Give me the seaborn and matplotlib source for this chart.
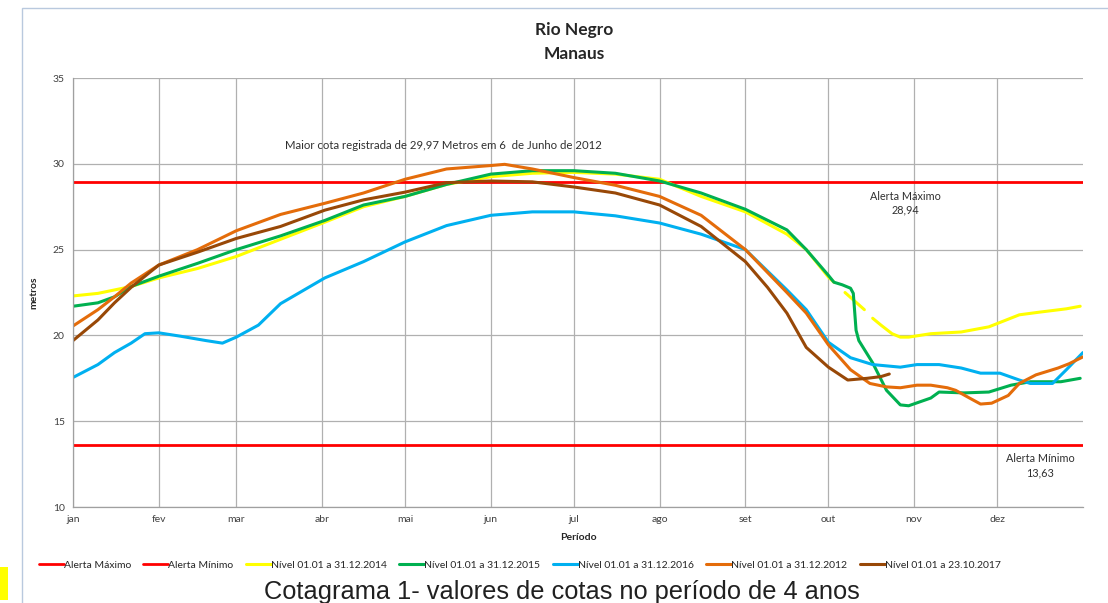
import numpy as np
import pandas as pd
import matplotlib
matplotlib.use('Agg')
import matplotlib.pyplot as plt
from matplotlib.patches import Rectangle
import seaborn as sns

sns.set_theme(style='whitegrid')
plt.rcParams['font.family'] = ['Lato', 'DejaVu Sans']

# day of year of each month start, and the month labels
month_days = [1, 32, 60, 91, 121, 152, 182, 213, 244, 274, 305, 335]
month_labels = ['jan', 'fev', 'mar', 'abr', 'mai', 'jun', 'jul', 'ago', 'set', 'out', 'nov', 'dez']

alerta_max = 28.94
alerta_min = 13.63

# values (day of year, metres)
days_2014 = [1, 10, 22, 32, 46, 60, 76, 92, 106, 121, 136, 152, 167, 182, 197, 213, 228, 244,
             259, 266, 274, 276, 278, 280, 287, 288, 290, 293, 297, 300, 303, 311, 322, 332,
             343, 350, 360, 365]
nivel_2014 = [22.3, 22.45, 22.85, 23.35, 23.9, 24.6, 25.6, 26.6, 27.5, 28.1, 28.8, 29.25, 29.45,
              29.5, 29.4, 29.1, 28.1, 27.2, 25.9, 25.0, 23.4, 23.1, np.nan, 22.5, 21.5, np.nan,
              21.0, 20.6, 20.1, 19.9, 19.9, 20.1, 20.2, 20.5, 21.2, 21.35, 21.55, 21.7]

days_2015 = [1, 10, 16, 22, 32, 46, 60, 76, 92, 106, 121, 136, 152, 167, 182, 197, 213, 228,
             244, 259, 266, 274, 276, 279, 282, 283, 284, 285, 290, 295, 300, 303, 311, 314,
             323, 332, 340, 347, 358, 365]
nivel_2015 = [21.7, 21.9, 22.25, 22.85, 23.45, 24.2, 25.0, 25.8, 26.7, 27.6, 28.1, 28.8, 29.4,
              29.6, 29.6, 29.45, 29.0, 28.3, 27.35, 26.15, 25.0, 23.5, 23.1, 22.95, 22.75, 22.45,
              20.3, 19.7, 18.4, 16.8, 15.95, 15.9, 16.35, 16.7, 16.65, 16.7, 17.1, 17.3, 17.3, 17.5]

days_2016 = [1, 10, 16, 22, 27, 32, 40, 49, 55, 60, 68, 76, 92, 106, 121, 136, 152, 167, 182,
             197, 213, 228, 244, 259, 266, 274, 282, 290, 300, 306, 314, 322, 329, 336, 343,
             347, 355, 360, 366]
nivel_2016 = [17.55, 18.3, 19.0, 19.55, 20.1, 20.15, 19.95, 19.7, 19.55, 19.9, 20.6, 21.85, 23.35,
              24.3, 25.45, 26.4, 27.0, 27.2, 27.2, 26.97, 26.55, 25.9, 25.0, 22.65, 21.5, 19.6,
              18.7, 18.3, 18.15, 18.3, 18.3, 18.1, 17.8, 17.8, 17.4, 17.2, 17.2, 18.0, 19.0]

days_2012 = [1, 10, 16, 22, 32, 46, 60, 76, 92, 106, 121, 136, 152, 157, 167, 182, 197, 213,
             228, 244, 259, 266, 274, 282, 289, 295, 300, 306, 311, 317, 320, 325, 329, 333,
             339, 343, 349, 357, 361, 366]
nivel_2012 = [20.55, 21.5, 22.25, 23.05, 24.1, 25.0, 26.1, 27.05, 27.7, 28.3, 29.1, 29.7, 29.9,
              29.97, 29.7, 29.2, 28.75, 28.1, 27.0, 25.0, 22.5, 21.3, 19.45, 18.0, 17.2, 17.0,
              16.95, 17.1, 17.1, 16.95, 16.8, 16.35, 16.0, 16.05, 16.5, 17.2, 17.7, 18.1, 18.35,
              18.75]

days_2017 = [1, 10, 16, 22, 32, 46, 60, 76, 92, 106, 121, 136, 152, 167, 182, 197, 213, 228,
             244, 252, 259, 266, 274, 281, 288, 293, 296]
nivel_2017 = [19.7, 20.9, 21.9, 22.8, 24.1, 24.85, 25.65, 26.35, 27.3, 27.9, 28.35, 28.9, 29.0,
              28.95, 28.65, 28.3, 27.6, 26.35, 24.3, 22.8, 21.3, 19.3, 18.15, 17.4, 17.5, 17.6,
              17.75]

series = [
    ('Nível 01.01 a 31.12.2014', days_2014, nivel_2014, '#ffff00'),
    ('Nível 01.01 a 31.12.2015', days_2015, nivel_2015, '#00b050'),
    ('Nível 01.01 a 31.12.2016', days_2016, nivel_2016, '#00b0f0'),
    ('Nível 01.01 a 31.12.2012', days_2012, nivel_2012, '#e46c0a'),
    ('Nível 01.01 a 23.10.2017', days_2017, nivel_2017, '#984807'),
]

fig = plt.figure(figsize=(11.08, 6.03), dpi=100)
ax = fig.add_axes([0.0659, 0.1592, 0.9115, 0.7114])

# outer frame and the little yellow mark at the left edge
fig.patches.append(Rectangle((22 / 1108, -0.05), 1.1, 1.05 - 8 / 603, transform=fig.transFigure,
                             fill=False, edgecolor='#b9c9de', linewidth=1.0))
fig.patches.append(Rectangle((0, 3 / 603), 8 / 1108, 33 / 603, transform=fig.transFigure,
                             facecolor='#ffff00', edgecolor='none'))

handles = []
sns.lineplot(x=[1, 366], y=[alerta_max, alerta_max], color='#ff0000', linewidth=2.0, ax=ax)
handles.append(ax.lines[-1])
sns.lineplot(x=[1, 366], y=[alerta_min, alerta_min], color='#ff0000', linewidth=2.0, ax=ax)
handles.append(ax.lines[-1])

for name, d, v, c in series:
    df = pd.DataFrame({'dia': d, 'cota': v})
    seg = df['cota'].isna().cumsum()
    first = True
    for _, part in df.dropna().groupby(seg[df['cota'].notna()]):
        sns.lineplot(data=part, x='dia', y='cota', color=c, linewidth=2.2, ax=ax,
                     sort=False, estimator=None)
        if first:
            handles.append(ax.lines[-1])
            first = False

labels = ['Alerta Máximo', 'Alerta Mínimo'] + [s[0] for s in series]

ax.set_xlim(1, 366)
ax.set_ylim(10, 35)
ax.set_yticks([10, 15, 20, 25, 30, 35])
ax.set_xticks(month_days)
ax.set_xticklabels(month_labels)
ax.tick_params(axis='both', labelsize=7.5, colors='#404040', length=0, pad=6)
ax.grid(True, color='#b0b0b0', linewidth=0.9)
for s in ['top', 'right']:
    ax.spines[s].set_visible(False)
for s in ['left', 'bottom']:
    ax.spines[s].set_color('#a0a0a0')
    ax.spines[s].set_linewidth(0.9)

ax.set_xlabel('Período', fontsize=7.5, fontweight='bold', labelpad=6)
ax.set_ylabel('metros', fontsize=7.5, fontweight='bold', labelpad=10)

ax.text(77.6, 31.05, 'Maior cota registrada de 29,97 Metros em 6  de Junho de 2012',
        fontsize=8.2, color='#303030', ha='left', va='center')
ax.text(302, 27.7, 'Alerta Máximo\n28,94', fontsize=7.8, color='#303030', ha='center',
        va='center', linespacing=1.3)
ax.text(350.5, 12.4, 'Alerta Mínimo\n13,63', fontsize=7.8, color='#303030', ha='center',
        va='center', linespacing=1.3)

fig.text(0.518, 0.95, 'Rio Negro', fontsize=12.5, fontweight='bold', ha='center', va='center')
fig.text(0.518, 0.91, 'Manaus', fontsize=12.5, fontweight='bold', ha='center', va='center')

fig.legend(handles, labels, loc='center', bbox_to_anchor=(0.469, 0.063), ncol=7, frameon=False,
           fontsize=7.5, handlelength=2.4, handletextpad=0.0, columnspacing=1.2)

fig.text(0.507, 0.018, 'Cotagrama 1- valores de cotas no período de 4 anos', fontsize=18.3,
         family=['Liberation Sans', 'DejaVu Sans'], ha='center', va='center', color='#202020')

fig.savefig('out.png', dpi=100)
